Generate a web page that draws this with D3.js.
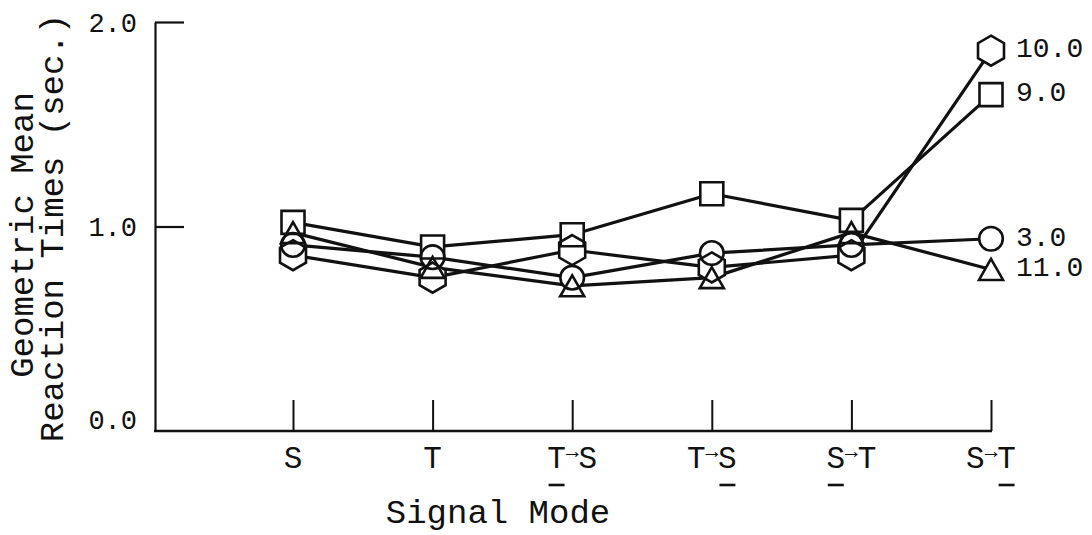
<!DOCTYPE html>
<html>
<head>
<meta charset="utf-8">
<script src="https://cdn.jsdelivr.net/npm/d3@7"></script>
<style>
  body { margin: 0; background: #fff; }
  svg { display: block; }
  text { font-family: "Liberation Mono", "Courier New", monospace; fill: #111; }
</style>
</head>
<body>
<svg id="chart" width="1092" height="535"></svg>
<script>
// Signal modes along the x axis; underlinedChar marks which letter is underlined (-1 = none)
const modes = ["S", "T", "T→S", "T→S", "S→T", "S→T"];
const underlinedChar = [-1, -1, 0, 2, 0, 2];

// Series (one per condition), labelled at the right end of each line
const seriesNames  = ["10.0", "9.0", "3.0", "11.0"];
const seriesShapes = ["hexagon", "square", "circle", "triangle"];
const hexagonValues  = [0.86, 0.75, 0.885, 0.80, 0.86, 1.86];
const squareValues   = [1.02, 0.90, 0.96, 1.16, 1.03, 1.645];
const circleValues   = [0.91, 0.85, 0.75, 0.87, 0.91, 0.94];
const triangleValues = [0.97, 0.80, 0.71, 0.75, 0.97, 0.79];

// Y axis ticks
const yTicks = [0, 1, 2];
const yTickLabels = ["0.0", "1.0", "2.0"];

const series = [hexagonValues, squareValues, circleValues, triangleValues].map((vals, k) => ({
  name: seriesNames[k], shape: seriesShapes[k], values: vals
}));

const svg = d3.select("#chart");
const axisX = 155;

const x = d3.scalePoint().domain(d3.range(modes.length)).range([293, 991]);
const y = d3.scaleLinear().domain([0, 2]).range([431, 22]);

// ---- Y axis: ticks point inward, labels on the left
const yAxis = d3.axisLeft(y)
  .tickValues(yTicks)
  .tickSizeInner(-29)
  .tickSizeOuter(0)
  .tickPadding(18)
  .tickFormat((d, i) => yTickLabels[i]);

const gy = svg.append("g").attr("transform", `translate(${axisX},0)`).call(yAxis);
gy.select(".domain").attr("stroke", "#111").attr("stroke-width", 2.2);
gy.selectAll(".tick line").attr("stroke", "#111").attr("stroke-width", 2.2)
  .filter(d => d === 0).remove();
gy.selectAll(".tick text")
  .attr("font-size", 27)
  .attr("font-family", "Liberation Mono, Courier New, monospace")
  .attr("fill", "#111")
  .attr("dy", "0.34em")
  .attr("y", d => (d === 0 ? -12 : 0));

// ---- X axis: baseline from the y axis to the last mode, ticks pointing up
svg.append("line")
  .attr("x1", axisX - 1).attr("x2", x(modes.length - 1) + 1)
  .attr("y1", y(0)).attr("y2", y(0))
  .attr("stroke", "#111").attr("stroke-width", 2.4);

const xAxis = d3.axisBottom(x).tickSizeInner(-31).tickSizeOuter(0).tickFormat("");
const gx = svg.append("g").attr("transform", `translate(0,${y(0)})`).call(xAxis);
gx.select(".domain").remove();
gx.selectAll(".tick line").attr("stroke", "#111").attr("stroke-width", 2);

// Mode labels: letters with a small raised arrow between them, plus underline
const labelY = 468;
modes.forEach((m, i) => {
  const t = svg.append("text")
    .attr("x", x(i)).attr("y", labelY)
    .attr("text-anchor", "middle")
    .attr("font-size", 31);
  const parts = m.split("→");
  if (parts.length === 1) {
    t.text(m);
  } else {
    t.append("tspan").text(parts[0]);
    t.append("tspan").attr("font-size", 21).attr("dy", -10).text("→");
    t.append("tspan").attr("dy", 10).text(parts[1]);
  }
  if (underlinedChar[i] >= 0) {
    const ext = t.node().getExtentOfChar(underlinedChar[i]);
    const cx = ext.x + ext.width / 2;
    svg.append("line")
      .attr("x1", cx - 8).attr("x2", cx + 8)
      .attr("y1", labelY + 17).attr("y2", labelY + 17)
      .attr("stroke", "#111").attr("stroke-width", 2.6);
  }
});

// ---- Axis titles
svg.append("text")
  .attr("transform", "translate(33,235) rotate(-90)")
  .attr("text-anchor", "middle").attr("font-size", 34)
  .text("Geometric Mean");
svg.append("text")
  .attr("transform", "translate(63,228) rotate(-90)")
  .attr("text-anchor", "middle").attr("font-size", 34)
  .text("Reaction Times (sec.)");
svg.append("text")
  .attr("x", 498).attr("y", 523)
  .attr("text-anchor", "middle").attr("font-size", 34)
  .text("Signal Mode");

// ---- Lines
const line = d3.line().x((d, i) => x(i)).y(d => y(d));
svg.append("g").selectAll("path").data(series).join("path")
  .attr("d", d => line(d.values))
  .attr("fill", "none").attr("stroke", "#111").attr("stroke-width", 3.2)
  .attr("stroke-linejoin", "round");

// ---- Marker shapes
function markerPath(shape) {
  const p = d3.path();
  if (shape === "square") {
    const h = 11.5; p.rect(-h, -h, 2 * h, 2 * h);
  } else if (shape === "circle") {
    p.arc(0, 0, 11.8, 0, 2 * Math.PI);
  } else if (shape === "triangle") {
    p.moveTo(0, -10.5); p.lineTo(12, 10.5); p.lineTo(-12, 10.5); p.closePath();
  } else if (shape === "hexagon") {
    const R = 15;
    for (let k = 0; k < 6; k++) {
      const a = -Math.PI / 2 + k * Math.PI / 3;
      const px = R * Math.cos(a), py = R * Math.sin(a);
      if (k === 0) p.moveTo(px, py); else p.lineTo(px, py);
    }
    p.closePath();
  }
  return p.toString();
}

const points = series.flatMap(s => s.values.map((v, i) => ({ shape: s.shape, i, v })));

// white interiors first, then every outline on top so overlapping symbols stay visible
svg.append("g").selectAll("path").data(points).join("path")
  .attr("transform", d => `translate(${x(d.i)},${y(d.v)})`)
  .attr("d", d => markerPath(d.shape))
  .attr("fill", "#fff").attr("stroke", "none");
svg.append("g").selectAll("path").data(points).join("path")
  .attr("transform", d => `translate(${x(d.i)},${y(d.v)})`)
  .attr("d", d => markerPath(d.shape))
  .attr("fill", "none").attr("stroke", "#111").attr("stroke-width", 2.6)
  .attr("stroke-linejoin", "miter");

// ---- End-of-line labels
const last = modes.length - 1;
svg.append("g").selectAll("text").data(series).join("text")
  .attr("x", x(last) + 25)
  .attr("y", d => y(d.values[last]) - 3)
  .attr("dy", "0.35em")
  .attr("font-size", 28)
  .text(d => d.name);
</script>
</body>
</html>
